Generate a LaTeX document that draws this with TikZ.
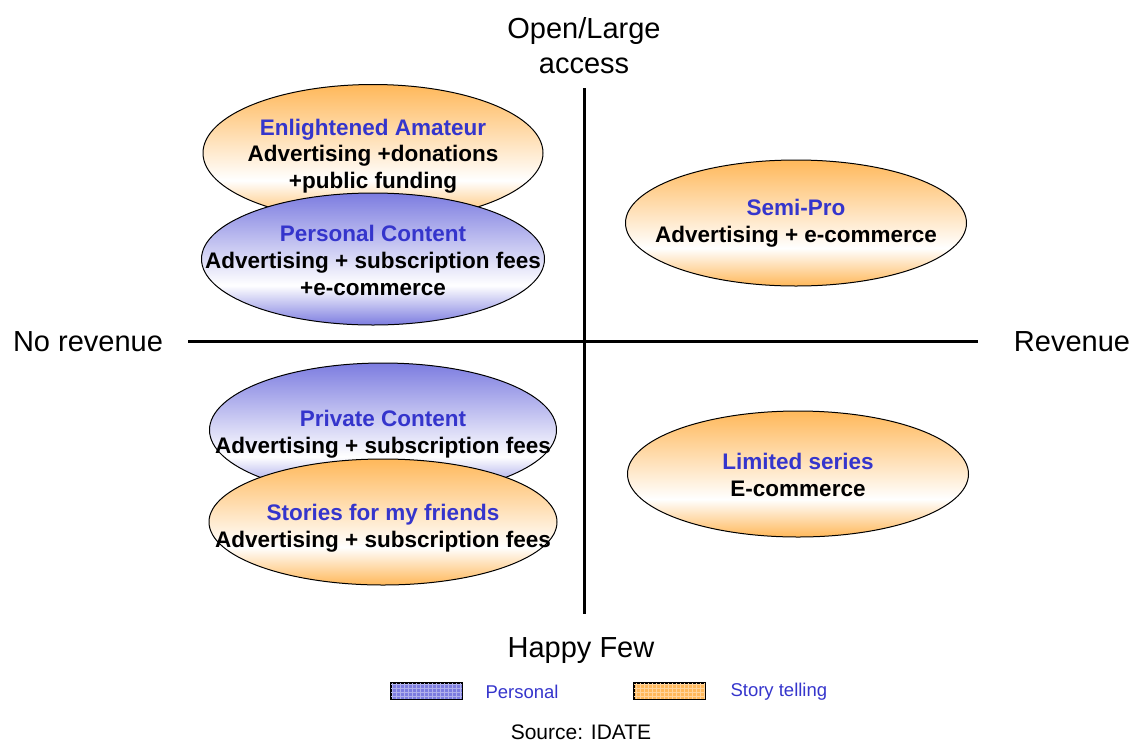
\documentclass[tikz,border=0pt]{standalone}
\usepackage{fontspec}
\setmainfont{Liberation Sans}
\usetikzlibrary{shapes.geometric}
\definecolor{StoryOrange}{HTML}{FFB85A}
\definecolor{PersonalBlue}{HTML}{7C7CE0}
\definecolor{TitleBlue}{HTML}{3535CC}
\pgfdeclareverticalshading{storyshade}{100bp}{color(0bp)=(StoryOrange); color(25bp)=(StoryOrange); color(40bp)=(white); color(75bp)=(StoryOrange); color(100bp)=(StoryOrange)}
\pgfdeclareverticalshading{personalshade}{100bp}{color(0bp)=(PersonalBlue); color(25bp)=(PersonalBlue); color(40bp)=(white); color(75bp)=(PersonalBlue); color(100bp)=(PersonalBlue)}

\begin{document}
\begin{tikzpicture}[x=1pt,y=-1pt,
    oval/.style={ellipse,draw=black,line width=1pt,minimum width=342pt,minimum height=130pt,inner sep=0pt},
    story/.style={shading=storyshade},
    personal/.style={shading=personalshade},
    caption/.style={align=center,font=\fontsize{22.5}{26.7}\selectfont\bfseries},
    axislabel/.style={align=center,font=\fontsize{29}{35}\selectfont},
    axis/.style={line width=3pt,black},
    swatch/.style={draw=black,line width=1pt,minimum width=71pt,minimum height=16pt,inner sep=0pt},
    legendtext/.style={anchor=west,text=TitleBlue,font=\fontsize{18.5}{22}\selectfont}]
  \useasboundingbox (0,0) rectangle (1134,742);
  % axes
  \coordinate (top) at (584,88);
  \coordinate (bottom) at (584,614);
  \coordinate (left) at (188,341);
  \coordinate (right) at (978,341);
  \draw[axis] (top) -- (bottom);
  \draw[axis] (left) -- (right);
  \node[axislabel] (open) at (584,46) {Open/Large\\access};
  \node[axislabel] (few) at (581,651) {Happy Few};
  \node[axislabel] (norev) at (88,342) {No revenue};
  \node[axislabel] (rev) at (1072,342) {Revenue};
  % upper left
  \node[oval,story,minimum width=340pt,minimum height=137pt] (amateur) at (373,153) {};
  \node[caption] (amateurtxt) at (373,156) {\textcolor{TitleBlue}{Enlightened Amateur}\\Advertising +donations\\+public funding};
  \node[oval,personal,minimum width=343pt,minimum height=132pt] (pcontent) at (373,259) {};
  \node[caption] (pcontenttxt) at (373,260.5) {\textcolor{TitleBlue}{Personal Content}\\Advertising + subscription fees\\+e-commerce};
  % upper right
  \node[oval,story,minimum width=341pt,minimum height=126pt] (semipro) at (796,223) {};
  \node[caption] (semiprotxt) at (796,223) {\textcolor{TitleBlue}{Semi-Pro}\\Advertising + e-commerce};
  % lower left
  \node[oval,personal,minimum width=347pt,minimum height=134pt] (private) at (383,430) {};
  \node[caption] (privatetxt) at (383,434) {\textcolor{TitleBlue}{Private Content}\\Advertising + subscription fees};
  \node[oval,story,minimum width=348pt,minimum height=126pt] (friends) at (383,522) {};
  \node[caption] (friendstxt) at (383,528) {\textcolor{TitleBlue}{Stories for my friends}\\Advertising + subscription fees};
  % lower right
  \node[oval,story,minimum width=341pt,minimum height=126pt] (limited) at (798,474) {};
  \node[caption] (limitedtxt) at (798,475) {\textcolor{TitleBlue}{Limited series}\\E-commerce};
  % legend
  \node[swatch,fill=PersonalBlue] (keyp) at (426.5,691) {};
  \draw[PersonalBlue!60!white,line width=0.4pt,step=4pt] (keyp.north west) grid (keyp.south east);
  \draw[line width=1pt] (keyp.north west) rectangle (keyp.south east);
  \node[legendtext] (keyptxt) at (482,692) {Personal};
  \node[swatch,fill=StoryOrange] (keys) at (669.5,691) {};
  \draw[StoryOrange!60!white,line width=0.4pt,step=4pt] (keys.north west) grid (keys.south east);
  \draw[line width=1pt] (keys.north west) rectangle (keys.south east);
  \node[legendtext] (keystxt) at (727,692) {Story telling};
  \node[font=\fontsize{21}{25}\selectfont] (source) at (581,732) {Source: IDATE};
\end{tikzpicture}
\end{document}
